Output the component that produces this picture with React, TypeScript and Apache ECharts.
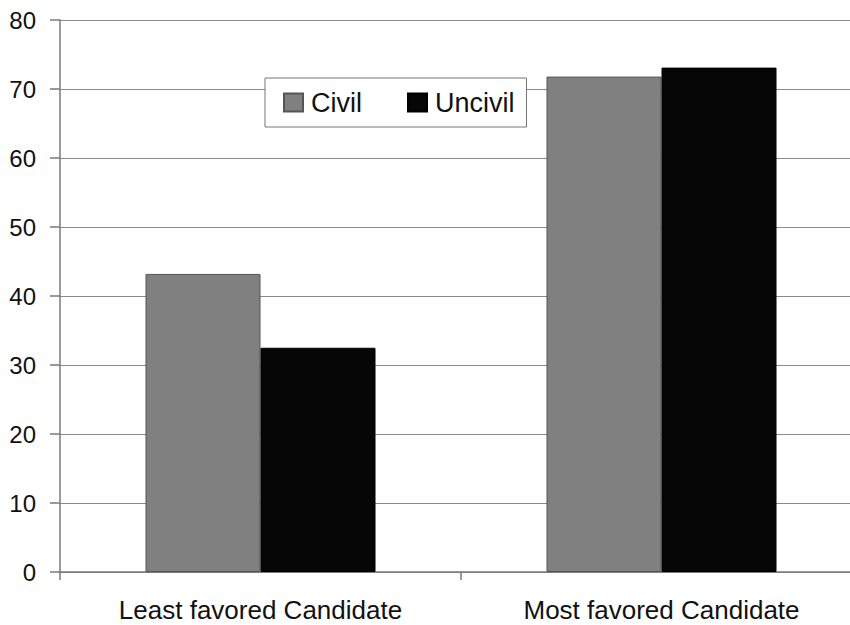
import React, { useEffect, useRef } from "react";
import * as echarts from "echarts";

const categories = ["Least favored Candidate", "Most favored Candidate"];
const seriesNames = ["Civil", "Uncivil"];
const civilValues = [43.2, 71.8];
const uncivilValues = [32.5, 73.1];
const yTicks = { min: 0, max: 80, interval: 10 };

const FONT = 'Arial, "Liberation Sans", Helvetica, sans-serif';

export default function App() {
  const ref = useRef<HTMLDivElement>(null);
  useEffect(() => {
    if (!ref.current) return;
    const chart = echarts.init(ref.current, undefined, { renderer: "svg" });
    chart.setOption({
      animation: false,
      backgroundColor: "#ffffff",
      textStyle: { fontFamily: FONT },
      grid: { left: 60, top: 20, width: 802, height: 552, containLabel: false },
      legend: {
        left: 265,
        top: 78,
        orient: "horizontal",
        data: seriesNames,
        icon: "rect",
        itemWidth: 19,
        itemHeight: 18,
        itemGap: 45,
        padding: [11, 12, 11, 18],
        backgroundColor: "#ffffff",
        borderColor: "#777777",
        borderWidth: 1,
        borderRadius: 0,
        textStyle: { fontSize: 27, color: "#111111", fontFamily: FONT, padding: [0, 0, 0, 3] },
      },
      xAxis: {
        type: "category",
        data: categories,
        axisLine: { show: true, lineStyle: { color: "#7a7a7a", width: 1.5 } },
        axisTick: { show: true, alignWithLabel: false, length: 8, lineStyle: { color: "#7a7a7a", width: 1.5 } },
        axisLabel: { fontSize: 26, lineHeight: 26, color: "#111111", margin: 25, fontFamily: FONT },
        splitLine: { show: false },
      },
      yAxis: {
        type: "value",
        min: yTicks.min,
        max: yTicks.max,
        interval: yTicks.interval,
        axisLine: { show: true, lineStyle: { color: "#7a7a7a", width: 1.5 } },
        axisTick: { show: true, length: 10, lineStyle: { color: "#7a7a7a", width: 1.5 } },
        axisLabel: { fontSize: 24, color: "#111111", margin: 24, fontFamily: FONT },
        splitLine: { show: true, lineStyle: { color: "#8a8a8a", width: 1.2 } },
      },
      series: [
        {
          name: seriesNames[0],
          type: "bar",
          data: civilValues,
          barWidth: 115,
          barGap: "0%",
          itemStyle: { color: "#808080", borderColor: "#555555", borderWidth: 1 },
        },
        {
          name: seriesNames[1],
          type: "bar",
          data: uncivilValues,
          barWidth: 115,
          barGap: "0%",
          itemStyle: { color: "#060606", borderColor: "#000000", borderWidth: 1 },
        },
      ],
    });
    return () => chart.dispose();
  }, []);
  return (
    <div
      style={{ position: "fixed", left: 0, top: 0, width: 850, height: 625, overflow: "hidden", background: "#fff" }}
    >
      <div ref={ref} style={{ width: 870, height: 625 }} />
    </div>
  );
}
